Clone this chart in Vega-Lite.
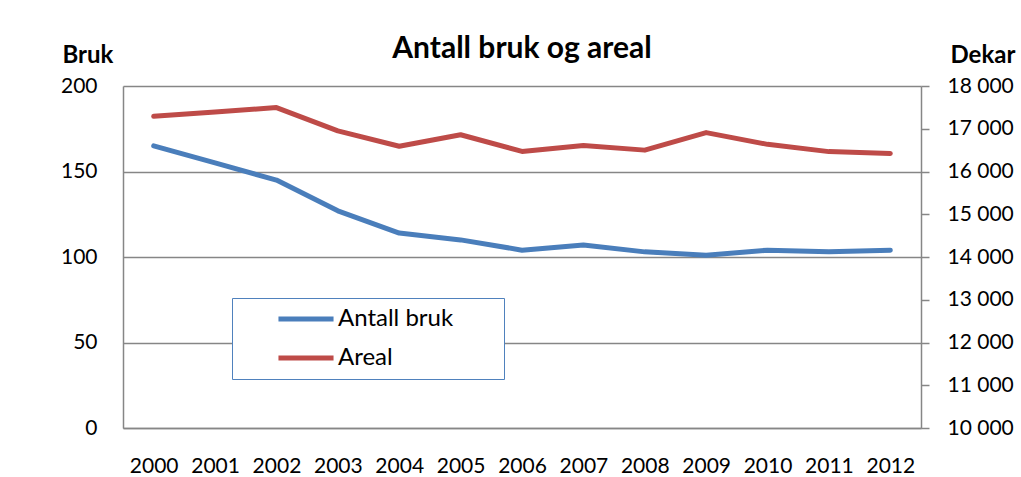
{
  "$schema": "https://vega.github.io/schema/vega-lite/v6.json",
  "width": 798,
  "height": 342,
  "autosize": {"type": "none"},
  "padding": {"left": 123, "top": 86, "right": 100, "bottom": 49},
  "background": "white",
  "title": {"text": "Antall bruk og areal", "font": "Lato", "fontSize": 30, "fontWeight": "bold", "color": "#000000", "anchor": "middle", "baseline": "bottom", "offset": 0, "dy": 51},
  "config": {
    "view": {"stroke": null},
    "axis": {"labelFont": "Lato", "labelFontSize": 21, "labelColor": "#000000", "domainColor": "#868686", "domainWidth": 1.5, "tickColor": "#868686", "tickWidth": 1.5, "gridColor": "#868686", "gridWidth": 1.3, "titleFont": "Lato", "titleFontSize": 24, "titleFontWeight": "bold", "titleColor": "#000000"}
  },
  "data": {"values": [
    {"year": 2000, "series": "Antall bruk", "value": 165},
    {"year": 2001, "series": "Antall bruk", "value": 155},
    {"year": 2002, "series": "Antall bruk", "value": 145},
    {"year": 2003, "series": "Antall bruk", "value": 127},
    {"year": 2004, "series": "Antall bruk", "value": 114},
    {"year": 2005, "series": "Antall bruk", "value": 110},
    {"year": 2006, "series": "Antall bruk", "value": 104},
    {"year": 2007, "series": "Antall bruk", "value": 107},
    {"year": 2008, "series": "Antall bruk", "value": 103},
    {"year": 2009, "series": "Antall bruk", "value": 101},
    {"year": 2010, "series": "Antall bruk", "value": 104},
    {"year": 2011, "series": "Antall bruk", "value": 103},
    {"year": 2012, "series": "Antall bruk", "value": 104},
    {"year": 2000, "series": "Areal", "value": 17290},
    {"year": 2001, "series": "Areal", "value": 17390},
    {"year": 2002, "series": "Areal", "value": 17495},
    {"year": 2003, "series": "Areal", "value": 16950},
    {"year": 2004, "series": "Areal", "value": 16590},
    {"year": 2005, "series": "Areal", "value": 16860},
    {"year": 2006, "series": "Areal", "value": 16470},
    {"year": 2007, "series": "Areal", "value": 16610},
    {"year": 2008, "series": "Areal", "value": 16500},
    {"year": 2009, "series": "Areal", "value": 16910},
    {"year": 2010, "series": "Areal", "value": 16635},
    {"year": 2011, "series": "Areal", "value": 16465},
    {"year": 2012, "series": "Areal", "value": 16420}
  ]},
  "encoding": {
    "x": {"field": "year", "type": "ordinal", "axis": {"title": null, "labelAngle": 0, "ticks": false, "labelPadding": 27, "grid": false}},
    "color": {"field": "series", "type": "nominal",
      "scale": {"domain": ["Antall bruk", "Areal"], "range": ["#4a7ebb", "#be4b48"]},
      "legend": {"orient": "none", "legendX": 109, "legendY": 212, "title": null, "strokeColor": "#4f81bd", "fillColor": "white", "padding": 9, "symbolType": "M-3.06,0L3.06,0M19.8,0L19.8,0", "symbolSize": 324, "symbolStrokeWidth": 5, "labelFont": "Lato", "labelFontSize": 24, "labelColor": "#000000", "labelOffset": 20, "rowPadding": 15, "symbolOffset": 53}}
  },
  "layer": [
    {
      "transform": [{"filter": "datum.series === 'Antall bruk'"}],
      "mark": {"type": "line", "strokeWidth": 5, "strokeCap": "round", "strokeJoin": "round"},
      "encoding": {
        "y": {"field": "value", "type": "quantitative", "scale": {"domain": [0, 200], "nice": false, "zero": false},
          "axis": {"orient": "left", "title": "Bruk", "titleAngle": 0, "titleX": -61, "titleY": -24, "titleAlign": "left", "titleBaseline": "alphabetic", "values": [0, 50, 100, 150, 200], "ticks": false, "labelPadding": 26, "grid": true}}
      }
    },
    {
      "transform": [{"filter": "datum.series === 'Areal'"}],
      "mark": {"type": "line", "strokeWidth": 5, "strokeCap": "round", "strokeJoin": "round"},
      "encoding": {
        "y": {"field": "value", "type": "quantitative", "scale": {"domain": [10000, 18000], "nice": false, "zero": false},
          "axis": {"orient": "right", "title": "Dekar", "titleAngle": 0, "titleX": 29, "titleY": -24, "titleAlign": "left", "titleBaseline": "alphabetic", "values": [10000, 11000, 12000, 13000, 14000, 15000, 16000, 17000, 18000], "ticks": true, "tickSize": 8, "labelPadding": 18, "labelAlign": "left", "grid": false, "labelExpr": "replace(format(datum.value, ','), ',', ' ')"}}
      }
    }
  ],
  "resolve": {"scale": {"y": "independent"}}
}
